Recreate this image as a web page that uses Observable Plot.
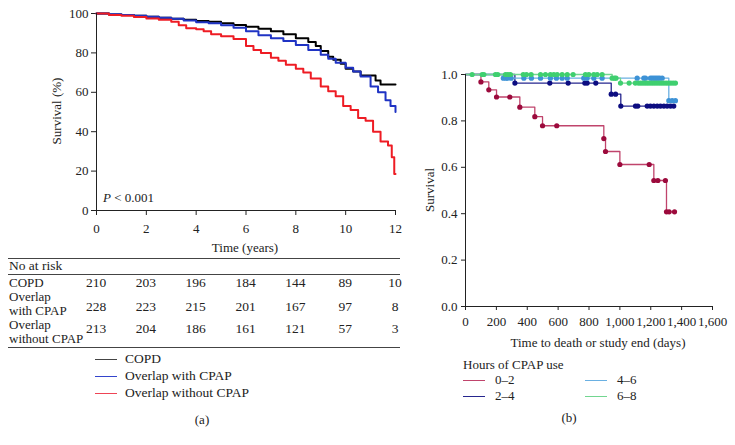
<!DOCTYPE html>
<html><head><meta charset="utf-8">
<script src="https://cdn.jsdelivr.net/npm/d3@7"></script>
<script src="https://cdn.jsdelivr.net/npm/@observablehq/plot@0.6"></script>
<style>
body{margin:0;background:#fff;}
#root{position:relative;width:735px;height:445px;font-family:"Liberation Serif",serif;font-size:13px;color:#222;overflow:hidden;background:#fff;}
.abs{position:absolute;white-space:pre;line-height:14px;}
.hl{position:absolute;height:0;border-top:1px solid #444;}
</style></head><body><div id="root"></div>
<script>
// ---------- Panel (a): Kaplan-Meier, survival (%) vs time (years) ----------
const groupsA = ["COPD", "Overlap with CPAP", "Overlap without CPAP"];
const copdYears = [0,0.5,1,1.5,2,2.5,3,3.5,4,4.5,5,5.5,6,6.5,7,7.5,8,8.5,8.8,9,9.3,9.5,9.8,10,10.3,10.6,11.2,11.4,12];
const copdSurv  = [100,99.5,99.2,98.8,98.3,97.8,97.3,96.8,96.2,95.8,95,94.2,93.3,92.2,91,89.5,87.5,85.5,83.5,81,78,76.5,74.5,72,70.5,68.5,66,64,64];
const cpapYears = [0,0.5,1,1.5,2,2.5,3,3.5,4,4.5,5,5.5,6,6.5,7,7.5,8,8.5,9,9.3,9.6,10,10.3,10.6,11,11.3,11.6,11.8,12];
const cpapSurv  = [100,99.6,99.2,98.9,98.4,97.9,97.3,96.5,95.5,95,94,92.8,91,89,87.5,86,84,81.5,79,77,75,72.5,70.5,68,63,60,56,53,50];
const noCpapYears = [0,0.5,1,1.5,2,2.5,3,3.3,3.6,4,4.3,4.6,5,5.5,6,6.3,6.6,7,7.3,7.6,8,8.3,8.6,9,9.3,9.6,9.9,10.2,10.5,10.8,11.1,11.4,11.7,11.85,11.95,12];
const noCpapSurv  = [100,99.3,98.8,98.2,97.5,96.8,95.8,94,92.5,92,91,89.5,88.5,87,83.5,81.5,80,77.5,76,74,72,70,67,63,60.5,58,53,51,47,45.5,40,35,33,27,18.5,18.5];
const xTicksA = [0,2,4,6,8,10,12];
const yTicksA = [0,20,40,60,80,100];
const riskTimes  = [0,2,4,6,8,10,12];
const riskCOPD   = [210,203,196,184,144,89,10];
const riskCPAP   = [228,223,215,201,167,97,8];
const riskNoCPAP = [213,204,186,161,121,57,3];
const riskLabels = ["COPD", "Overlap\nwith CPAP", "Overlap\nwithout CPAP"];

// ---------- Panel (b): survival vs days by hours of CPAP use ----------
const groupsB = ["0\u20132", "2\u20134", "4\u20136", "6\u20138"];
const days0_2 = [100,151,201,287,352,449,499,591,896,907,1000,1190,1220,1246,1295,1302,1319,1354];
const surv0_2 = [0.968,0.934,0.903,0.903,0.859,0.818,0.779,0.779,0.724,0.668,0.612,0.612,0.543,0.543,0.543,0.408,0.408,0.408];
const days2_4 = [320,546,665,773,788,844,944,972,1006,1101,1116,1177,1198,1220,1242,1263,1285,1306,1328,1349];
const surv2_4 = [0.963,0.963,0.963,0.963,0.963,0.963,0.915,0.915,0.864,0.864,0.864,0.864,0.864,0.864,0.864,0.864,0.864,0.864,0.864,0.864];
const days4_6 = [245,262,274,296,378,427,486,550,589,626,659,766,788,831,885,1112,1155,1166,1198,1210,1222,1234,1246,1258,1274,1317,1339,1360];
const surv4_6 = [0.984,0.984,0.984,0.984,0.984,0.984,0.984,0.984,0.984,0.984,0.984,0.984,0.984,0.984,0.984,0.984,0.984,0.984,0.984,0.984,0.984,0.984,0.984,0.984,0.984,0.887,0.887,0.887];
const days6_8 = [43,108,119,194,209,259,274,291,374,395,425,486,518,550,572,594,626,659,697,777,799,831,853,885,950,965,975,1004,1060,1100,1120,1135,1150,1165,1180,1195,1210,1225,1240,1255,1270,1285,1300,1315,1330,1345,1360];
const surv6_8 = [1,1,1,1,1,1,1,1,1,1,1,1,1,1,1,1,1,1,1,1,1,1,1,1,0.984,0.984,0.984,0.963,0.963,0.963,0.963,0.963,0.963,0.963,0.963,0.963,0.963,0.963,0.963,0.963,0.963,0.963,0.963,0.963,0.963,0.963,0.963];
const xTicksB = [0,200,400,600,800,1000,1200,1400,1600];
const yTicksB = [0,0.2,0.4,0.6,0.8,1.0];

// ---------- build ----------
const root = document.getElementById("root");
const FONT = '"Liberation Serif", serif';
function addText(txt, x, y, {anchor = "start", size = 13, rotate = false, html = false, lh = 14} = {}) {
  const d = document.createElement("div");
  d.className = "abs";
  d.style.left = x + "px"; d.style.top = y + "px";
  d.style.fontSize = size + "px"; d.style.lineHeight = lh + "px";
  const tx = anchor === "middle" ? "-50%" : anchor === "end" ? "-100%" : "0";
  d.style.transform = `translate(${tx},-50%)` + (rotate ? " rotate(-90deg)" : "");
  if (html) d.innerHTML = txt; else d.textContent = txt;
  root.appendChild(d);
  return d;
}
function hline(x1, x2, y, color = "#444") {
  const d = document.createElement("div");
  d.className = "hl";
  d.style.left = x1 + "px"; d.style.width = (x2 - x1) + "px"; d.style.top = y + "px";
  d.style.borderTopColor = color;
  root.appendChild(d);
}

const colorsA = ["#000000", "#1f33c4", "#ee1c24"];
const seriesA = [[copdYears, copdSurv], [cpapYears, cpapSurv], [noCpapYears, noCpapSurv]];
const rowsA = seriesA.flatMap(([t, s], g) => t.map((v, i) => ({group: groupsA[g], t: v, s: s[i]})));

const left = Plot.plot({
  width: 420, height: 240,
  marginLeft: 96, marginRight: 25, marginTop: 13, marginBottom: 30,
  style: {fontFamily: FONT, fontSize: "13px", color: "#222", background: "transparent", overflow: "visible"},
  x: {domain: [0, 12], ticks: xTicksA, tickSize: 5, tickPadding: 8, label: null},
  y: {domain: [0, 100], ticks: yTicksA, tickSize: 5, tickPadding: 3, label: null},
  color: {domain: groupsA, range: colorsA},
  marks: [
    Plot.lineY(rowsA, {x: "t", y: "s", z: "group", stroke: "group", strokeWidth: 2, curve: "step-after"}),
    Plot.ruleX([0], {stroke: "#222"}),
    Plot.ruleY([0], {stroke: "#222"})
  ]
});
left.style.position = "absolute"; left.style.left = "0px"; left.style.top = "0px";
root.appendChild(left);

addText("Survival (%)", 57, 111, {anchor: "middle", rotate: true});
addText("<i>P</i> &lt; 0.001", 103, 198, {html: true});
addText("Time (years)", 245, 248, {anchor: "middle"});

// risk table, columns from the plot's x scale
const xs = left.scale("x");
hline(8, 400, 258);
addText("No at risk", 9, 266, {size: 13.5});
hline(8, 400, 274);
const rowY = [283, 307, 329];
const labelY = [283, 304, 332];
[riskCOPD, riskCPAP, riskNoCPAP].forEach((vals, r) => {
  addText(riskLabels[r], 9, labelY[r], {lh: 14, size: 13});
  riskTimes.forEach((t, i) => addText(String(vals[i]), xs.apply(t), rowY[r], {anchor: "middle", size: 13.5}));
});
hline(8, 400, 347);

// legend (a)
const legColorsA = ["#444", "#3344cc", "#ee4455"];
const legY = [359, 376, 393];
groupsA.forEach((g, i) => {
  hline(95, 117, legY[i], legColorsA[i]);
  addText(g, 125, legY[i], {size: 13.5});
});
addText("(a)", 202, 420, {anchor: "middle"});

// ---------- panel (b) ----------
const lineColB = ["#c0446c", "#26268e", "#6ab0e2", "#72d690"];
const dotColB  = ["#9c0a3c", "#0c0c80", "#3d92d6", "#3fcf6f"];
const seriesB = [[days0_2, surv0_2], [days2_4, surv2_4], [days4_6, surv4_6], [days6_8, surv6_8]];
const marksB = [];
seriesB.forEach(([t, s], g) => {
  const pts = t.map((v, i) => ({t: v, s: s[i]}));
  const linePts = [{t: 0, s: 1}, ...pts];
  marksB.push(Plot.line(linePts, {x: "t", y: "s", stroke: lineColB[g], strokeWidth: 1.3, curve: "step-after"}));
  marksB.push(Plot.dot(pts, {x: "t", y: "s", fill: dotColB[g], r: 2.6, stroke: "none"}));
});
const right = Plot.plot({
  width: 315, height: 275,
  marginLeft: 45, marginRight: 23, marginTop: 14, marginBottom: 29,
  style: {fontFamily: FONT, fontSize: "13px", color: "#222", background: "transparent", overflow: "visible"},
  x: {domain: [0, 1600], ticks: xTicksB, tickFormat: d3.format(","), tickSize: 4, tickPadding: 6, label: null},
  y: {domain: [0, 1], ticks: yTicksB, tickFormat: d3.format(".1f"), tickSize: 4, tickPadding: 4, label: null},
  marks: [
    ...marksB,
    Plot.ruleX([0], {stroke: "#222"}),
    Plot.ruleY([0], {stroke: "#222"})
  ]
});
right.style.position = "absolute"; right.style.left = "420px"; right.style.top = "60px";
root.appendChild(right);

addText("Survival", 430, 190, {anchor: "middle", rotate: true});
addText("Time to death or study end (days)", 598, 343, {anchor: "middle"});
addText("Hours of CPAP use", 463, 365);
const legPosB = [[463, 380], [463, 396], [585, 380], [585, 396]];
groupsB.forEach((g, i) => {
  const [x, y] = legPosB[i];
  hline(x, x + 22, y, lineColB[i]);
  addText(g, x + 32, y);
});
addText("(b)", 569, 418, {anchor: "middle"});
</script></body></html>
